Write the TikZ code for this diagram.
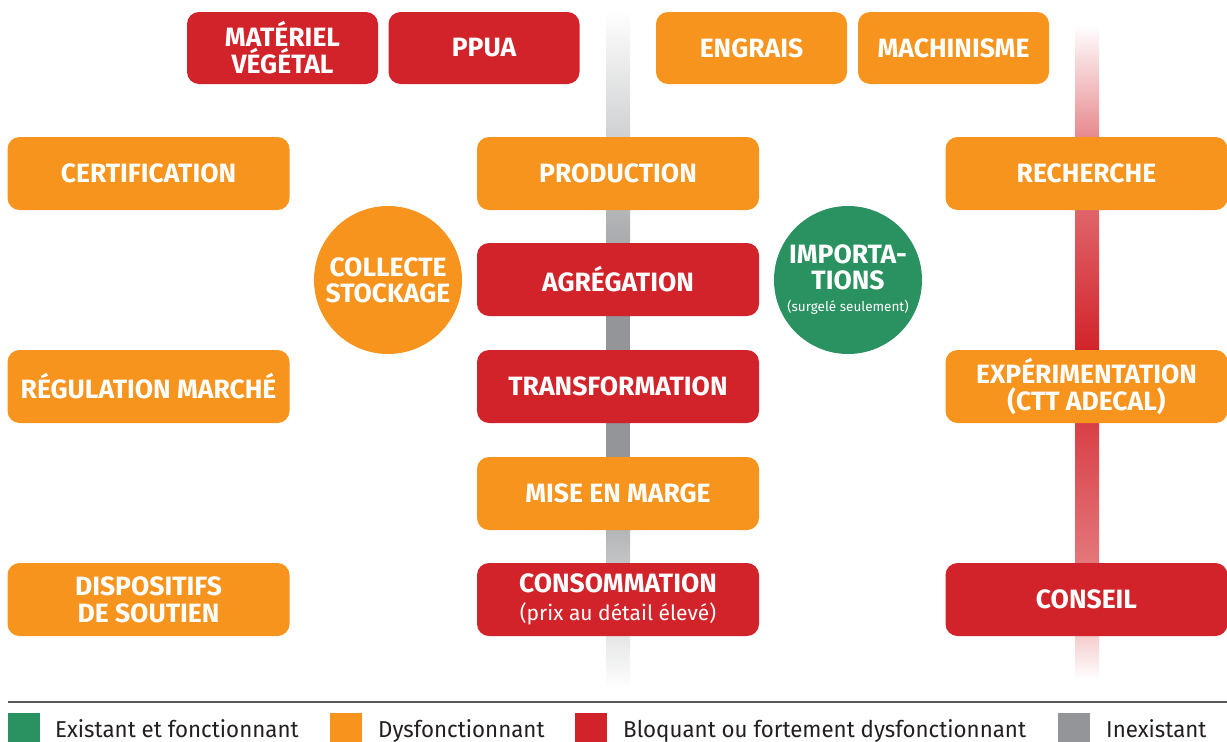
\documentclass[tikz,border=0pt]{standalone}
\usepackage{fontspec}
\setmainfont{Fira Sans}
\definecolor{cOrange}{HTML}{F7941D}
\definecolor{cRed}{HTML}{D2232A}
\definecolor{cGreen}{HTML}{2A9160}
\definecolor{cGray}{HTML}{939598}
\definecolor{cRule}{HTML}{58595B}
\definecolor{cText}{HTML}{231F20}
\tikzset{
  box/.style={rectangle, rounded corners=12pt, minimum width=282pt, minimum height=73pt,
    inner sep=0pt, text=white, align=center,
    font=\fontsize{26.5}{27}\selectfont\bfseries},
  topbox/.style={box, minimum width=191pt, minimum height=72pt},
  disc/.style={circle, minimum size=148pt, inner sep=0pt, text=white, align=center,
    font=\fontsize{26.5}{26}\selectfont\bfseries},
  keysq/.style={rectangle, minimum width=32pt, minimum height=30pt, inner sep=0pt, anchor=north west},
  keytxt/.style={anchor=base west, inner sep=0pt, text=cText,
    font=\fontsize{23}{24}\selectfont\addfontfeature{FakeStretch=0.97}},
}
\begin{document}
\begin{tikzpicture}[x=1pt,y=-1pt]
\useasboundingbox (0,0) rectangle (1227,742);

% vertical chain bars behind the boxes
\shade[top color=white, bottom color=cGray] (606,10) rectangle (630,300);
\fill[cGray] (606,299) rectangle (630,461);
\shade[top color=cGray, bottom color=white] (606,460) rectangle (630,690);

\shade[top color=white, bottom color=cRed!55] (1075,25) rectangle (1099,140);
\shade[top color=cRed!55, bottom color=cRed] (1075,139) rectangle (1099,350);
\shade[top color=cRed, bottom color=cRed!62] (1075,349) rectangle (1099,562);
\shade[top color=cRed!62, bottom color=white] (1075,561) rectangle (1099,680);

% inputs across the top
\node[topbox, fill=cRed] (materiel) at (282.5,48) {MATÉRIEL\\VÉGÉTAL};
\node[topbox, fill=cRed] (ppua) at (484,48) {PPUA};
\node[topbox, fill=cOrange] (engrais) at (751.5,48) {ENGRAIS};
\node[topbox, fill=cOrange] (machinisme) at (953.5,48) {MACHINISME};

% left column
\node[box, fill=cOrange] (certif) at (148.5,173.5) {CERTIFICATION};
\node[box, fill=cOrange] (regul) at (148.5,386.5) {RÉGULATION MARCHÉ};
\node[box, fill=cOrange] (dispo) at (148.5,599.5) {DISPOSITIFS\\DE SOUTIEN};

% central chain
\node[box, fill=cOrange] (prod) at (618,173.5) {PRODUCTION};
\node[box, fill=cRed] (agreg) at (618,279.5) {AGRÉGATION};
\node[box, fill=cRed] (transfo) at (618,386.5) {TRANSFORMATION};
\node[box, fill=cOrange] (marge) at (618,493.5) {MISE EN MARGE};
\node[box, fill=cRed] (conso) at (618,599.5) {CONSOMMATION\\[1pt]{\mdseries\fontsize{21}{24}\selectfont (prix au détail élevé)}};

% right column
\node[box, fill=cOrange] (recherche) at (1086.5,173.5) {RECHERCHE};
\node[box, fill=cOrange] (experim) at (1086.5,386.5) {EXPÉRIMENTATION\\(CTT ADECAL)};
\node[box, fill=cRed] (conseil) at (1086.5,599.5) {CONSEIL};

% circles
\node[disc, fill=cOrange] (collecte) at (388,280) {COLLECTE\\STOCKAGE};
\node[disc, fill=cGreen] (import) at (848,280)
  {IMPORTA-\\TIONS\\[-4pt]{\mdseries\fontsize{13.5}{15}\selectfont (surgelé seulement)}};

% legend
\coordinate (ruleL) at (8,702);
\coordinate (ruleR) at (1227,702);
\draw[cRule, line width=1.6pt] (ruleL) -- (ruleR);
\node[keysq, fill=cGreen] (kGreen) at (8,713) {};
\node[keysq, fill=cOrange] (kOrange) at (330,713) {};
\node[keysq, fill=cRed] (kRed) at (575,713) {};
\node[keysq, fill=cGray] (kGray) at (1058,713) {};
\node[keytxt] (tGreen) at (55,737) {Existant et fonctionnant};
\node[keytxt] (tOrange) at (378,737) {Dysfonctionnant};
\node[keytxt] (tRed) at (623,737) {Bloquant ou fortement dysfonctionnant};
\node[keytxt] (tGray) at (1106,737) {Inexistant};
\end{tikzpicture}
\end{document}
